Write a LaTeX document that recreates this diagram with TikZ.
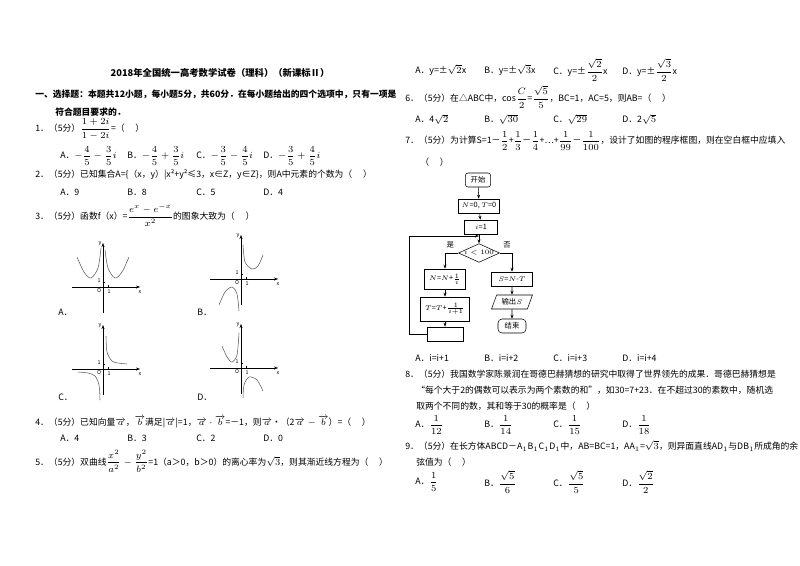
\documentclass[tikz,border=0pt]{standalone}
\usepackage{fontspec}
\setmainfont{Noto Sans CJK SC}
\usetikzlibrary{shapes.geometric,arrows.meta}
\newcommand{\df}[2]{{\displaystyle\frac{#1}{#2}}}
\tikzset{t/.style={anchor=west,inner sep=0pt,font=\fontsize{6.6}{7}\selectfont},
 fb/.style={draw,thin,inner sep=1pt,minimum height=10.5pt,font=\fontsize{5.5}{6}\selectfont},
 ar/.style={-{Stealth[length=3pt]},thin},
 ax/.style={-{Stealth[length=3pt]},very thin},
 cv/.style={thin,gray!70!black}}
\begin{document}
\begin{tikzpicture}[x=0.75pt,y=-0.75pt]
\useasboundingbox[fill=white] (0,0) rectangle (800,565);
% left column
\node[t,anchor=center,font=\fontsize{7}{8}\bfseries\selectfont] (title) at (220,73) {2018年全国统一高考数学试卷（理科）（新课标Ⅱ）};
\node[t,font=\fontsize{6.6}{7}\bfseries\selectfont] (s1) at (35,94) {一、选择题：本题共12小题，每小题5分，共60分．在每小题给出的四个选项中，只有一项是};
\node[t,font=\fontsize{6.6}{7}\bfseries\selectfont] (s2) at (55,112) {符合题目要求的．};
\node[t] (q1) at (35,129) {1．（5分）$\df{1+2i}{1-2i}$=（\quad\ ）};
\node[t] (q1a) at (60,156) {A．$-\df{4}{5}-\df{3}{5}i$};
\node[t] (q1b) at (127,156) {B．$-\df{4}{5}+\df{3}{5}i$};
\node[t] (q1c) at (196,156) {C．$-\df{3}{5}-\df{4}{5}i$};
\node[t] (q1d) at (263,156) {D．$-\df{3}{5}+\df{4}{5}i$};
\node[t] (q2) at (35,175) {2．（5分）已知集合A=\{（x，y）|x²+y²≤3，x∈Z，y∈Z\}，则A中元素的个数为（\quad\ ）};
\node[t] (q2a) at (60,192) {A．9};
\node[t] (q2b) at (127,192) {B．8};
\node[t] (q2c) at (196,192) {C．5};
\node[t] (q2d) at (263,192) {D．4};
\node[t] (q3) at (35,215) {3．（5分）函数f（x）=$\df{e^x-e^{-x}}{x^2}$的图象大致为（\quad\ ）};
% graphs
\foreach \ox/\oy/\n in {103/287/A,241/279/B,103/369/C,241/368/D}{
 \draw[ax] (\ox-31,\oy) -- (\ox+37,\oy);
 \draw[ax] (\ox,\oy+26) -- (\ox,\oy-44);
 \draw[very thin] (\ox+5,\oy) -- (\ox+5,\oy-2) (\ox,\oy-5) -- (\ox+2,\oy-5);
 \node[inner sep=0,font=\fontsize{4}{4}\selectfont] at (\ox+37,\oy+5) {x};
 \node[inner sep=0,font=\fontsize{4}{4}\selectfont] at (\ox-3,\oy-43) {y};
 \node[inner sep=0,font=\fontsize{4}{4}\itshape\selectfont] at (\ox-4,\oy+4) {O};
 \node[inner sep=0,font=\fontsize{4}{4}\selectfont] at (\ox+6,\oy+5) {1};
 \node[inner sep=0,font=\fontsize{4}{4}\selectfont] at (\ox-4,\oy-6) {1};
}
\draw[cv] plot[smooth] coordinates {(77,257) (84,272) (91,278) (98,268) (101,248)};
\draw[cv] plot[smooth] coordinates {(105,250) (108,268) (115,278) (122,272) (129,257)};
\draw[cv] plot[smooth] coordinates {(243,245) (245,262) (252,269) (258,266) (263,255)};
\draw[cv] plot[smooth] coordinates {(219,305) (225,292) (232,287) (237,294) (239,311)};
\draw[cv] plot[smooth] coordinates {(106,336) (107,352) (112,361) (118,363) (127,364)};
\draw[cv] plot[smooth] coordinates {(78,372) (88,373) (95,376) (99,385) (100,400)};
\draw[cv] plot[smooth] coordinates {(222,346) (227,357) (232,362) (237,355) (239,333)};
\draw[cv] plot[smooth] coordinates {(243,398) (244,385) (249,377) (257,380) (263,391)};
\node[t] (la) at (58,312) {A．};
\node[t] (lb) at (197,312) {B．};
\node[t] (lc) at (58,397) {C．};
\node[t] (ld) at (197,397) {D．};
\node[t] (q4) at (35,422) {4．（5分）已知向量$\overrightarrow{a}$，$\overrightarrow{b}$满足|$\overrightarrow{a}$|=1，$\overrightarrow{a}\cdot\overrightarrow{b}$=－1，则$\overrightarrow{a}$•（2$\overrightarrow{a}-\overrightarrow{b}$）=（\quad\ ）};
\node[t] (q4a) at (60,438) {A．4};
\node[t] (q4b) at (127,438) {B．3};
\node[t] (q4c) at (196,438) {C．2};
\node[t] (q4d) at (263,438) {D．0};
\node[t] (q5) at (35,461) {5．（5分）双曲线$\df{x^2}{a^2}-\df{y^2}{b^2}$=1（a＞0，b＞0）的离心率为$\sqrt{3}$，则其渐近线方程为（\quad\ ）};
% right column
\node[t] (q5a) at (415,70) {A．y=±$\sqrt{2}$x};
\node[t] (q5b) at (484,70) {B．y=±$\sqrt{3}$x};
\node[t] (q5c) at (553,70) {C．y=±$\df{\sqrt{2}}{2}$x};
\node[t] (q5d) at (622,70) {D．y=±$\df{\sqrt{3}}{2}$x};
\node[t] (q6) at (405,97) {6．（5分）在△ABC中，cos$\df{C}{2}$=$\df{\sqrt{5}}{5}$，BC=1，AC=5，则AB=（\quad\ ）};
\node[t] (q6a) at (415,119) {A．4$\sqrt{2}$};
\node[t] (q6b) at (484,119) {B．$\sqrt{30}$};
\node[t] (q6c) at (553,119) {C．$\sqrt{29}$};
\node[t] (q6d) at (622,119) {D．2$\sqrt{5}$};
\node[t] (q7) at (405,141) {7．（5分）为计算S=1－$\df{1}{2}$+$\df{1}{3}$－$\df{1}{4}$+…+$\df{1}{99}$－$\df{1}{100}$，设计了如图的程序框图，则在空白框中应填入};
\node[t] (q7p) at (420,162) {（\quad\ ）};
% flowchart
\node[fb,rounded corners=2pt,minimum width=19pt] (st) at (478,180) {开始};
\node[fb,minimum width=31pt] (n0) at (479,206) {$N$=0, $T$=0};
\node[fb,minimum width=25pt] (i1) at (481,227) {$i$=1};
\node[fb,diamond,aspect=2.2,inner sep=0pt,minimum width=29pt,minimum height=14pt] (dm) at (479,253) {$i<100$};
\node[fb,minimum width=31pt,minimum height=15pt] (nn) at (445,279) {$N$=$N$+$\frac{1}{i}$};
\node[fb,minimum width=37pt,minimum height=18pt] (tt) at (445,309) {$T$=$T$+$\frac{1}{i+1}$};
\node[fb,minimum width=27pt] (em) at (445,334) {};
\node[fb,minimum width=31pt] (sn) at (512,279) {$S$=$N$-$T$};
\node[fb,trapezium,trapezium left angle=70,trapezium right angle=110,minimum width=26pt,inner xsep=0pt] (out) at (512,302) {输出$S$};
\node[fb,rounded corners=3pt,minimum width=21pt] (en) at (512,326) {结束};
\draw[ar] (st) -- (n0);
\draw[ar] (n0) -- (i1);
\draw[ar] (i1.south -| dm.north) -- (dm);
\draw[ar] (dm.west) -| (nn.north) node[pos=0.3,above,font=\fontsize{5.5}{6}\selectfont] {是};
\draw[ar] (dm.east) -| (sn.north) node[pos=0.3,above,font=\fontsize{5.5}{6}\selectfont] {否};
\draw[ar] (nn) -- (tt);
\draw[ar] (tt) -- (em);
\draw[ar] (sn) -- (out);
\draw[ar] (out) -- (en);
\coordinate (lp) at (479,236);
\draw[ar] (em.west) -| (409,236) -- (lp);
\node[t] (q7a) at (415,358) {A．i=i+1};
\node[t] (q7b) at (484,358) {B．i=i+2};
\node[t] (q7c) at (553,358) {C．i=i+3};
\node[t] (q7d) at (622,358) {D．i=i+4};
\node[t] (q8) at (405,374) {8．（5分）我国数学家陈景润在哥德巴赫猜想的研究中取得了世界领先的成果．哥德巴赫猜想是};
\node[t] (q8b) at (416,390) {“每个大于2的偶数可以表示为两个素数的和”，如30=7+23．在不超过30的素数中，随机选};
\node[t] (q8c) at (416,406) {取两个不同的数，其和等于30的概率是（\quad\ ）};
\node[t] (q8a1) at (415,425) {A．$\df{1}{12}$};
\node[t] (q8a2) at (484,425) {B．$\df{1}{14}$};
\node[t] (q8a3) at (553,425) {C．$\df{1}{15}$};
\node[t] (q8a4) at (622,425) {D．$\df{1}{18}$};
\node[t] (q9) at (405,446) {9．（5分）在长方体ABCD－A$_1$B$_1$C$_1$D$_1$中，AB=BC=1，AA$_1$=$\sqrt{3}$，则异面直线AD$_1$与DB$_1$所成角的余};
\node[t] (q9b) at (416,462) {弦值为（\quad\ ）};
\node[t] (q9a1) at (415,482) {A．$\df{1}{5}$};
\node[t] (q9a2) at (484,482) {B．$\df{\sqrt{5}}{6}$};
\node[t] (q9a3) at (553,482) {C．$\df{\sqrt{5}}{5}$};
\node[t] (q9a4) at (622,482) {D．$\df{\sqrt{2}}{2}$};
\end{tikzpicture}
\end{document}
